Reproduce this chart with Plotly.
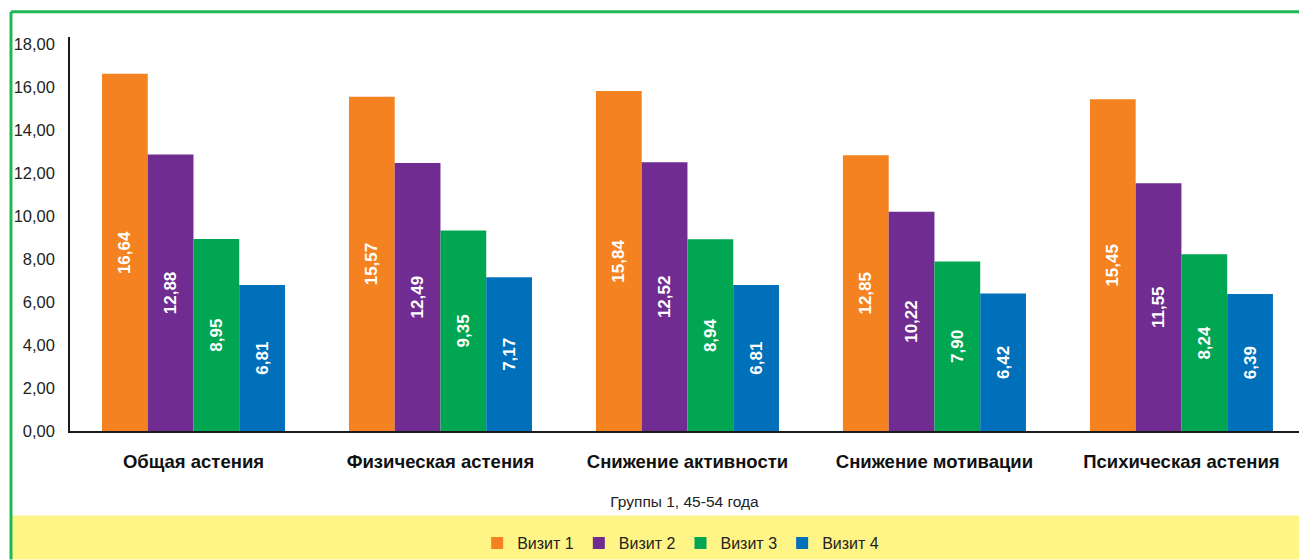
import plotly.graph_objects as go

categories = ["Общая астения", "Физическая астения", "Снижение активности",
              "Снижение мотивации", "Психическая астения"]
series_names = ["Визит 1", "Визит 2", "Визит 3", "Визит 4"]
visit1 = [16.64, 15.57, 15.84, 12.85, 15.45]
visit2 = [12.88, 12.49, 12.52, 10.22, 11.55]
visit3 = [8.95, 9.35, 8.94, 7.90, 8.24]
visit4 = [6.81, 7.17, 6.81, 6.42, 6.39]
colors = ["#F58220", "#702C91", "#00A651", "#0070BA"]

W, H = 1299, 560
fig = go.Figure()
for name, vals, col in zip(series_names, [visit1, visit2, visit3, visit4], colors):
    fig.add_trace(go.Bar(
        x=categories, y=vals, name=name, marker=dict(color=col, line=dict(width=0)),
        text=[f"{v:.2f}".replace(".", ",") for v in vals],
        textposition="inside", insidetextanchor="middle", textangle=-90,
        textfont=dict(family="Liberation Sans, Arial", size=17, color="white", weight="bold"),
        constraintext="none",
    ))

plot_left = 70
axis_bottom, axis_top = 436, 37
fig.update_layout(
    width=W, height=H, margin=dict(l=0, r=0, t=0, b=0),
    paper_bgcolor="white", plot_bgcolor="white",
    separators=", ",
    barmode="group", bargap=0.259, bargroupgap=0,
    font=dict(family="Liberation Sans, Arial", color="#1a1a1a"),
    xaxis=dict(domain=[plot_left / W, 1], range=[-0.5, 4.476], showline=True,
               linecolor="#1a1a1a", linewidth=1.5, ticks="", automargin=False,
               tickfont=dict(size=18.5, weight="bold", color="#111"), ticklabelstandoff=13,
               title=dict(text="Группы 1, 45-54 года", font=dict(size=15.5, color="#222"), standoff=25)),
    yaxis=dict(domain=[1 - axis_bottom / H, 1 - axis_top / H], range=[0, 18.37], dtick=2,
               tickformat=".2f", showline=True, linecolor="#1a1a1a", linewidth=1.5,
               showgrid=False, zeroline=False, ticks="", automargin=False,
               tickfont=dict(size=16.5, color="#222"), ticklabelstandoff=10),
    showlegend=True,
    legend=dict(orientation="h", x=0.524, xanchor="center", y=1 - 549 / H, yanchor="middle",
                font=dict(size=16, color="#222"), bgcolor="rgba(0,0,0,0)",
                itemwidth=30, traceorder="normal"),
    shapes=[
        dict(type="rect", xref="paper", yref="paper", x0=12 / W, x1=1.01, y0=-0.01, y1=1 - 521 / H,
             fillcolor="#FFF587", line=dict(width=0), layer="below"),
        dict(type="line", xref="paper", yref="paper", x0=11 / W, x1=1.01, y0=1 - 12 / H, y1=1 - 12 / H,
             line=dict(color="#1EB954", width=3)),
        dict(type="line", xref="paper", yref="paper", x0=11 / W, x1=11 / W, y0=1 - 12 / H, y1=-0.01,
             line=dict(color="#1EB954", width=3)),
    ],
)
fig.write_html("out.html")
